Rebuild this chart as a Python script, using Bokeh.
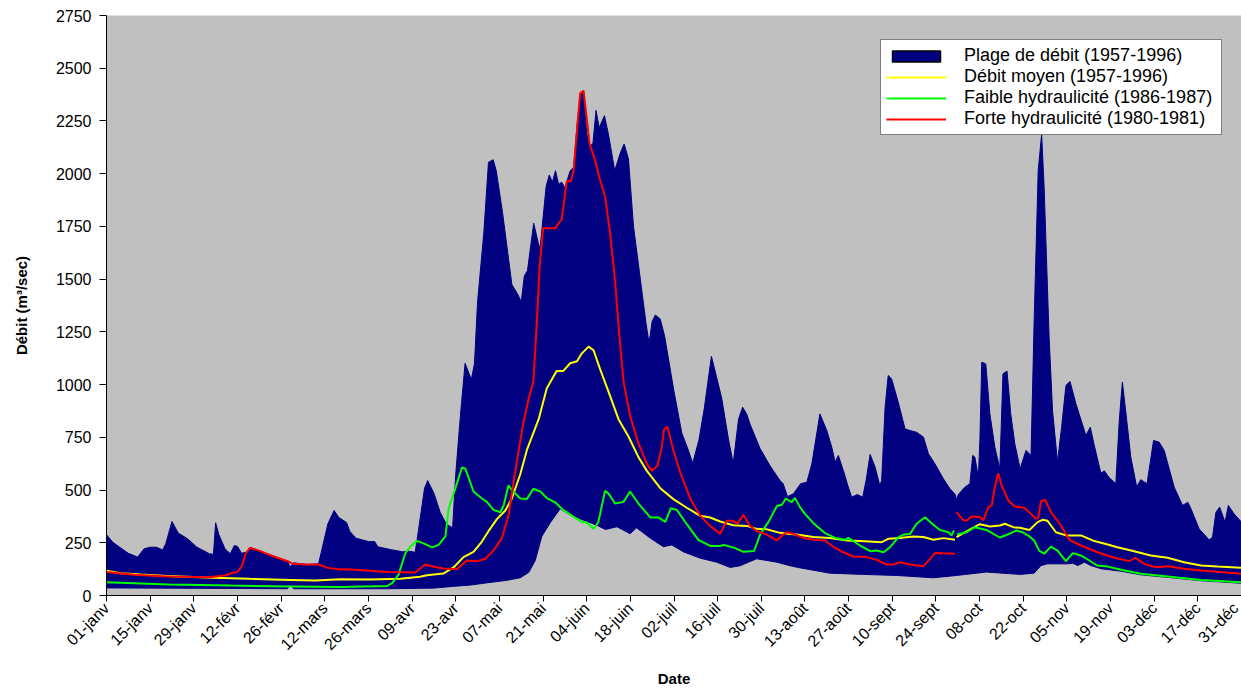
import math
import numpy as np
from bokeh.plotting import figure
from bokeh.models import FixedTicker, Legend, LegendItem, Range1d
from bokeh.embed import file_html
from bokeh.resources import INLINE

# ---------------- data (day of year, 0 = 01-janv) ----------------
tick_labels = ["01-janv", "15-janv", "29-janv", "12-févr", "26-févr", "12-mars", "26-mars",
               "09-avr", "23-avr", "07-mai", "21-mai", "04-juin", "18-juin", "02-juil",
               "16-juil", "30-juil", "13-août", "27-août", "10-sept", "24-sept", "08-oct",
               "22-oct", "05-nov", "19-nov", "03-déc", "17-déc", "31-déc"]
y_ticks = [0, 250, 500, 750, 1000, 1250, 1500, 1750, 2000, 2250, 2500, 2750]

max_days = [0, 2, 5, 7, 10, 12, 14, 16, 18, 19, 21, 23, 26, 29, 33, 34.3, 35, 36, 38, 39.7, 41, 42, 43.3,
            45, 46, 48, 54, 58, 59, 60, 64, 68, 69, 71, 73, 74.5, 77, 78, 80, 84, 86, 87, 91, 95, 97, 99,
            100, 102, 103, 105, 107, 109, 111, 112, 113.5, 115, 117, 118, 119, 121, 122.5, 124, 125, 127,
            130, 132, 133, 134, 135, 137, 138.5, 139, 141, 142, 143, 144, 145, 146, 147, 148.7, 149.8,
            151, 152, 153, 154, 155, 156, 157, 158, 159.7, 161, 163, 164.7, 166, 167.4, 169, 171, 173,
            174, 175, 176, 177.6, 179, 182, 184.5, 186.6, 188, 190, 191.7, 194, 195.7, 197.3, 199.5,
            201, 202.7, 204, 205.3, 206.4, 209.6, 212.8, 216, 217, 218.4, 220.3, 222.6, 224.6, 226.2,
            227.6, 228.8, 231, 232.6, 233.7, 234.7, 236.3, 237.9, 239, 240.8, 242.5, 243.6, 244.9,
            246.5, 248, 248.6, 249.7, 250.7, 251.8, 253.9, 256.1, 257.7, 259.8, 262, 263.6, 265.7,
            268.4, 270.5, 272.2, 272.6, 273.2, 275.3, 276.9, 277.8, 278.5, 279.6, 280.1, 280.7, 282,
            283.3, 284.9, 286.5, 287.5, 288.8, 290, 291.3, 293, 294.9, 296.5, 297.5, 298.8, 299.9,
            300.7, 302.3, 303.4, 305, 306.3, 307.7, 309, 310.9, 314.1, 315.5, 316.8, 318.9, 320,
            321.6, 323.7, 324.8, 325.8, 327.2, 328.5, 330.4, 331.7, 333.7, 335.8, 337.6, 339.2,
            342.4, 345.1, 346.8, 347.8, 350.4, 353.6, 354.7, 355.8, 357, 358.7, 359.8, 361.6, 364]
max_vals = [288, 253, 221, 200, 182, 221, 229, 229, 216, 245, 351, 296, 269, 229, 198, 195, 345, 290, 221,
            198, 237, 233, 200, 206, 229, 216, 185, 161, 136, 155, 147, 150, 213, 340, 403, 370, 346,
            305, 272, 256, 256, 231, 218, 207, 210, 205, 305, 509, 545, 485, 395, 338, 321, 575, 853,
            1101, 1024, 1098, 1392, 1719, 2054, 2066, 2014, 1817, 1475, 1425, 1392, 1515, 1540, 1765,
            1670, 1640, 1940, 1994, 1960, 2014, 1949, 1960, 1932, 2014, 2030, 2243, 2381, 2392, 2193,
            2128, 2144, 2300, 2218, 2275, 2185, 2014, 2095, 2141, 2070, 1752, 1523, 1294, 1196, 1300,
            1330, 1311, 1229, 967, 771, 689, 627, 738, 885, 1134, 1033, 935, 738, 627, 836, 893, 861,
            812, 697, 615, 545, 530, 469, 482, 530, 537, 624, 751, 861, 782, 703, 632, 664, 593, 514,
            466, 479, 466, 545, 669, 608, 522, 545, 893, 1043, 1027, 917, 790, 782, 774, 751, 672, 624,
            553, 506, 479, 455, 479, 514, 530, 664, 656, 561, 735, 1106, 1098, 861, 703, 601, 1051,
            1064, 861, 719, 601, 688, 664, 1304, 2015, 2186, 1936, 1225, 877, 632, 798, 996, 1015,
            909, 759, 798, 711, 580, 591, 558, 530, 830, 1012, 830, 656, 514, 549, 530, 735, 727, 688,
            514, 427, 442, 411, 316, 264, 276, 395, 419, 348, 427, 387, 348]

min_days = [0, 30, 58, 59, 60, 90, 105, 111, 117, 122, 128, 132.7, 135.4, 137.5, 139.6, 142.3, 145.5,
            148.7, 153, 157.3, 160, 163.7, 167.9, 170, 174.4, 178.6, 181.3, 185, 190.4, 195.7, 200,
            203.2, 208.5, 215, 219.2, 222.4, 232, 242.7, 253.4, 265.2, 272.6, 282.2, 292.9, 297.5,
            299.7, 301.8, 308.2, 309.9, 311.5, 313.6, 315.7, 318.9, 325.4, 331.7, 340.3, 351, 364]
min_vals = [36, 34, 32, 50, 32, 32, 35, 43, 50, 60, 71, 84, 109, 166, 280, 345, 411, 382, 357, 333, 313,
            326, 293, 321, 272, 231, 240, 207, 177, 158, 133, 141, 174, 158, 141, 131, 106, 100, 95, 84,
            95, 111, 100, 106, 142, 150, 150, 153, 142, 158, 142, 127, 115, 98, 86, 70, 58]

nan = float("nan")

mean_days = [0, 4.5, 11, 19.5, 34, 46, 59, 67, 75, 84.6, 94.2, 100.6, 102.8, 108, 111.3, 114.5, 117.7,
             120.4, 122.5, 125.2, 127.9, 130, 132.7, 134.8, 138.6, 141.2, 143.4, 144.4, 146.5, 148.7,
             150.9, 152.4, 154.6, 156.2, 158.3, 161, 164.2, 167.4, 170.6, 173.3, 177.6, 181.8, 186.1,
             190.4, 193.6, 196.8, 201, 205.3, 208.5, 211.7, 216, 219.2, 221.3, 226.7, 232, 237.4,
             241.7, 248.6, 250.7, 254.5, 258.7, 262, 265.2, 268.4, 272.1, 272.35, 272.6, 275.9, 280.1,
             283.3, 286.5, 288.1, 290.8, 292.9, 296, 298.6, 300.2, 301.8, 304.5, 307.7, 312.5, 316.8,
             321.1, 324.2, 329.6, 334.9, 340.3, 345.6, 351, 356.3, 364]
mean_vals = [118, 106, 100, 93, 84, 79, 74, 71, 77, 76, 79, 89, 96, 104, 133, 182, 207, 256, 305, 362,
             403, 460, 575, 689, 836, 983, 1040, 1065, 1065, 1101, 1111, 1147, 1180, 1163, 1073, 967,
             836, 754, 656, 591, 509, 457, 416, 378, 370, 351, 333, 330, 316, 314, 297, 292, 289, 277,
             273, 261, 258, 253, 269, 273, 280, 277, 264, 272, 264, nan, 277, 305, 338, 327, 332, 340,
             324, 321, 311, 348, 359, 354, 300, 285, 285, 258, 242, 229, 210, 190, 179, 158, 142, 137,
             131]

low_days = [0, 20, 40, 59, 75, 90, 91.7, 93.7, 95.8, 97.4, 99.6, 101.7, 104.4, 106.5, 108.7, 109.7,
            111.9, 114, 115.1, 117.7, 120.4, 122, 124.1, 126.3, 127.4, 128.9, 130, 132.7, 134.8, 136.9,
            139.1, 141.2, 143.9, 146, 149.3, 152.5, 154, 156.2, 157.7, 159.9, 161, 163.1, 165.8,
            167.9, 170.6, 174.4, 177, 179.2, 181, 182.9, 186.1, 189.8, 193.6, 196.8, 197.9, 201,
            204.3, 207.7, 209.6, 212.3, 215, 216.6, 217.9, 219.7, 220.8, 222.4, 224, 226.7, 230.4,
            233.7, 236.9, 237.9, 241.7, 244.9, 247, 249.2, 251.3, 254, 255.6, 257.7, 259.8, 262.5,
            264.6, 267.3, 270, 271, 271.8, 272.3, 272.8, 275.9, 278.5, 282.2, 286.5, 289, 291.7,
            293.8, 296, 297.5, 299.1, 300.7, 302.9, 305, 307.7, 309.9, 312.5, 315.2, 317.8, 321.1,
            325.4, 331.7, 340.3, 351, 364]
low_vals = [63, 52, 47, 43, 40, 45, 60, 100, 199, 231, 259, 247, 228, 240, 280, 411, 509, 607, 601, 493,
            460, 444, 406, 395, 428, 522, 500, 460, 457, 506, 493, 462, 442, 411, 378, 349, 346, 316,
            346, 496, 483, 436, 444, 493, 436, 370, 370, 349, 414, 406, 338, 264, 235, 235, 240, 228,
            207, 211, 289, 349, 424, 430, 460, 442, 463, 419, 387, 343, 296, 273, 264, 273, 237, 210,
            213, 205, 229, 277, 289, 292, 340, 371, 343, 311, 300, 285, 308, nan, 289, 300, 324, 311,
            275, 289, 308, 300, 280, 261, 213, 198, 232, 213, 163, 201, 190, 166, 142, 137, 122, 103,
            90, 74, 63]

high_days = [0, 8.8, 19.5, 33, 37.8, 40.5, 41.9, 43.5, 44.6, 46, 48.3, 53.6, 58.4, 59.8, 64.3, 68, 71,
             75, 77, 84.6, 90, 99, 102.2, 104.9, 108, 112.4, 115.6, 118.8, 121.5, 124.2, 126.8, 128.9,
             130.6, 132.2, 133.7, 135.4, 136.9, 138, 138.9, 140, 143.9, 146, 147.6, 148.9, 149.8,
             150.9, 151.9, 153, 153.8, 154.9, 156.7, 158.1, 159.9, 161.5, 163.1, 164.5, 165.8, 167.9,
             170.6, 173.3, 174.9, 176.7, 178.1, 178.8, 179.9, 181.8, 184, 187.2, 190.4, 193.6, 196.8,
             198.9, 201, 202.3, 204.3, 206.4, 208.5, 211.7, 215, 217, 218.2, 220.8, 223.5, 226.7,
             230.4, 233, 236.3, 239.5, 243.8, 247, 250.2, 252.4, 254.5, 257.7, 262, 264.6, 265.7,
             268.4, 272.1, 272.35, 272.6, 274.8, 275.9, 277.4, 280.1, 281.2, 282.8, 283.9, 284.9,
             286, 287.1, 289.2, 291.3, 294.3, 296.5, 298, 298.8, 299.7, 301, 302.9, 306.1, 308.8,
             312.5, 317.8, 323.2, 328, 329.9, 332.8, 336.5, 340.3, 345.6, 351, 357.4, 364]
high_vals = [111, 98, 90, 87, 95, 108, 111, 142, 198, 226, 216, 185, 161, 150, 147, 147, 131, 123, 124,
             117, 112, 109, 147, 136, 128, 125, 166, 162, 174, 215, 272, 378, 542, 689, 820, 934, 1016,
             1294, 1556, 1741, 1741, 1785, 1964, 1964, 2014, 2209, 2381, 2393, 2291, 2144, 2062, 1981,
             1891, 1719, 1490, 1229, 1016, 853, 722, 624, 591, 615, 706, 787, 800, 689, 583, 460, 378,
             330, 293, 354, 354, 341, 382, 330, 305, 289, 261, 289, 300, 289, 273, 264, 261, 232, 205,
             185, 182, 169, 147, 147, 158, 147, 139, 182, 202, 200, 198, nan, 395, 356, 356, 375, 372,
             356, 419, 427, 514, 580, 522, 450, 422, 416, 387, 364, 368, 447, 454, 395, 332, 264, 237,
             205, 179, 163, 179, 150, 134, 139, 127, 119, 111, 103]

FONT = "Liberation Sans"
NAVY = "#000080"

p = figure(width=1241, height=692, output_backend="svg", toolbar_location=None,
           x_range=Range1d(0, 364), y_range=Range1d(0, 2750),
           min_border_left=106, min_border_top=15, min_border_right=0, min_border_bottom=97)
p.background_fill_color = "#C0C0C0"
p.border_fill_color = "white"
p.outline_line_color = None
p.grid.visible = False

band = p.patch(max_days + min_days[::-1], max_vals + min_vals[::-1],
               fill_color=NAVY, line_color=NAVY, line_width=1)
# legend-only swatch (no visible data)
swatch = p.quad(left=[nan], right=[nan], top=[nan], bottom=[nan], fill_color=NAVY,
                line_color="black", line_width=1.5)
r_mean = p.line(mean_days, mean_vals, line_color="#FFFF00", line_width=2)
r_low = p.line(low_days, low_vals, line_color="#00FF00", line_width=2)
r_high = p.line(high_days, high_vals, line_color="#FF0000", line_width=2)

# axes
p.xaxis.ticker = FixedTicker(ticks=[14 * i for i in range(len(tick_labels))])
p.xaxis.major_label_overrides = {14 * i: t for i, t in enumerate(tick_labels)}
p.xaxis.major_label_orientation = math.pi / 4
p.xaxis.minor_tick_line_color = None
p.xaxis.major_tick_in = 0
p.xaxis.major_tick_out = 6
p.xaxis.major_label_standoff = 4
p.xaxis.axis_label = "Date"
p.xaxis.axis_label_standoff = 8

p.yaxis.ticker = FixedTicker(ticks=y_ticks)
p.yaxis.minor_tick_line_color = None
p.yaxis.major_tick_in = 0
p.yaxis.major_tick_out = 7
p.yaxis.major_label_standoff = 8
p.yaxis.axis_label = "Débit (m³/sec)"
p.yaxis.axis_label_standoff = 23

for ax in (p.xaxis, p.yaxis):
    ax.axis_line_color = "black"
    ax.major_tick_line_color = "black"
    ax.major_label_text_font = FONT
    ax.major_label_text_font_size = "16px"
    ax.major_label_text_color = "black"
    ax.axis_label_text_font = FONT
    ax.axis_label_text_font_size = "15px"
    ax.axis_label_text_font_style = "bold"
    ax.axis_label_text_color = "black"

legend = Legend(items=[
    LegendItem(label="Plage de débit (1957-1996)", renderers=[swatch]),
    LegendItem(label="Débit moyen (1957-1996)", renderers=[r_mean]),
    LegendItem(label="Faible hydraulicité (1986-1987)", renderers=[r_low]),
    LegendItem(label="Forte hydraulicité (1980-1981)", renderers=[r_high]),
], location=(774, 460))
legend.label_text_font = FONT
legend.label_text_font_size = "18px"
legend.label_text_color = "black"
legend.padding = 5
legend.spacing = 0
legend.margin = 0
legend.glyph_width = 60
legend.glyph_height = 14
legend.label_height = 20
legend.label_width = 252
legend.label_standoff = 18
legend.border_line_color = "black"
legend.border_line_width = 1.5
legend.background_fill_color = "white"
legend.background_fill_alpha = 1
p.add_layout(legend, "center")

open("out.html", "w").write(file_html(p, INLINE))
